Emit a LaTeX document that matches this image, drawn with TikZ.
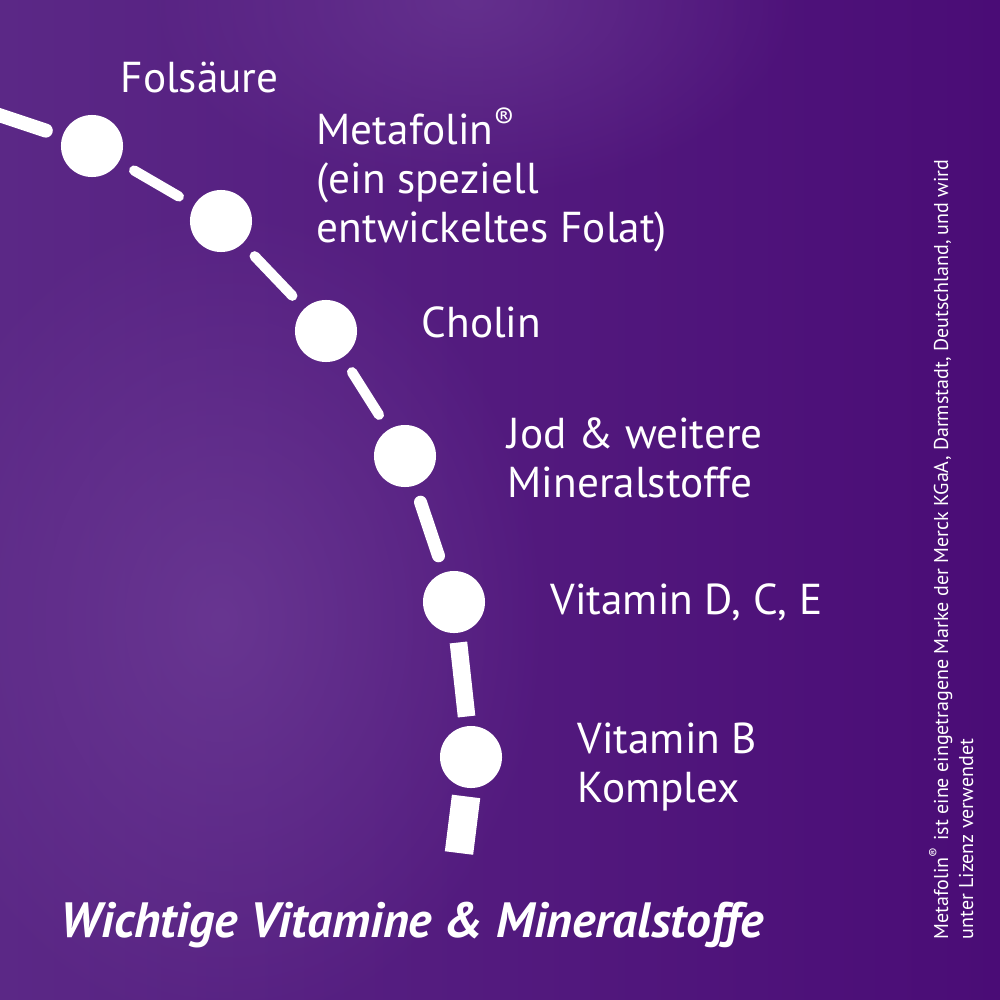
\documentclass[tikz,border=0pt]{standalone}
\usepackage{fontspec}
\setmainfont{PT Sans}
\usetikzlibrary{fadings}

\definecolor{bgleft}{HTML}{5B2886}
\definecolor{bgright}{HTML}{4A0C76}
\definecolor{glow}{HTML}{6F3E97}
\tikzfading[name=glowfade, inner color=transparent!0, outer color=transparent!100]

\begin{document}
\begin{tikzpicture}
    [x = 0.01cm, y = -0.01cm,
     every node/.style = {text = white, inner sep = 0pt},
     dot/.style = {circle, fill = white, minimum size = 0.62cm},
     link/.style = {draw = white, line cap = round, shorten > = 0.17cm, shorten < = 0.17cm},
     item/.style = {anchor = base west, align = left, font = \fontsize{12.3}{13.8}\selectfont},
     heading/.style = {anchor = base west, font = \bfseries\itshape\fontsize{14.1}{16}\selectfont},
     note/.style = {rotate = 90, anchor = base west, align = left, font = \fontsize{5.7}{7.1}\selectfont}]
    \useasboundingbox (0,0) rectangle (1000,1000);

    % background
    \shade[left color = bgleft, right color = bgright] (0,0) rectangle (1000,1000);
    \fill[glow, path fading = glowfade, fill opacity = .7] (220,620) ellipse (330 and 420);
    \fill[glow, path fading = glowfade, fill opacity = .6] (470,0) ellipse (330 and 200);

    % dots
    \node[dot] (d1) at (92,146) {};
    \node[dot] (d2) at (221,221) {};
    \node[dot] (d3) at (326,331) {};
    \node[dot] (d4) at (405,456) {};
    \node[dot] (d5) at (454,602) {};
    \node[dot] (d6) at (471,757) {};
    \coordinate (start) at (-10,112);
    \coordinate (tail) at (459,853);

    \draw[link, line width = 4pt, shorten < = 0pt] (start) -- (d1);
    \foreach \from/ \to/ \w in {d1/d2/2.9pt, d2/d3/2.9pt, d3/d4/2.9pt, d4/d5/3.7pt}
      \draw[link, line width = \w] (\from) -- (\to);
    \draw[link, line cap = butt, line width = 5pt, shorten > = 0.09cm, shorten < = 0.09cm] (d5) -- (d6);
    \draw[link, line cap = butt, line width = 8.1pt, shorten < = 0.08cm, shorten > = 0pt] (d6) -- (tail);

    % labels (multi-line ones sit on their last baseline)
    \node[item] (folsaeure) at (120,92) {Folsäure};
    \node[item] (metafolin) at (316,242) {Metafolin\textsuperscript{®}\\(ein speziell\\entwickeltes Folat)};
    \node[item] (cholin) at (421,337) {Cholin};
    \node[item] (jod) at (507,497) {Jod \& weitere\\Mineralstoffe};
    \node[item] (vitdce) at (550,614) {Vitamin D, C, E};
    \node[item] (vitb) at (577,802) {Vitamin B\\Komplex};

    \node[heading] (title) at (60,937) {Wichtige Vitamine \& Mineralstoffe};
    \node[note] (hint) at (973,940) {Metafolin\textsuperscript{®} ist eine eingetragene Marke der Merck KGaA, Darmstadt, Deutschland, und wird\\unter Lizenz verwendet};
  \end{tikzpicture}
\end{document}
